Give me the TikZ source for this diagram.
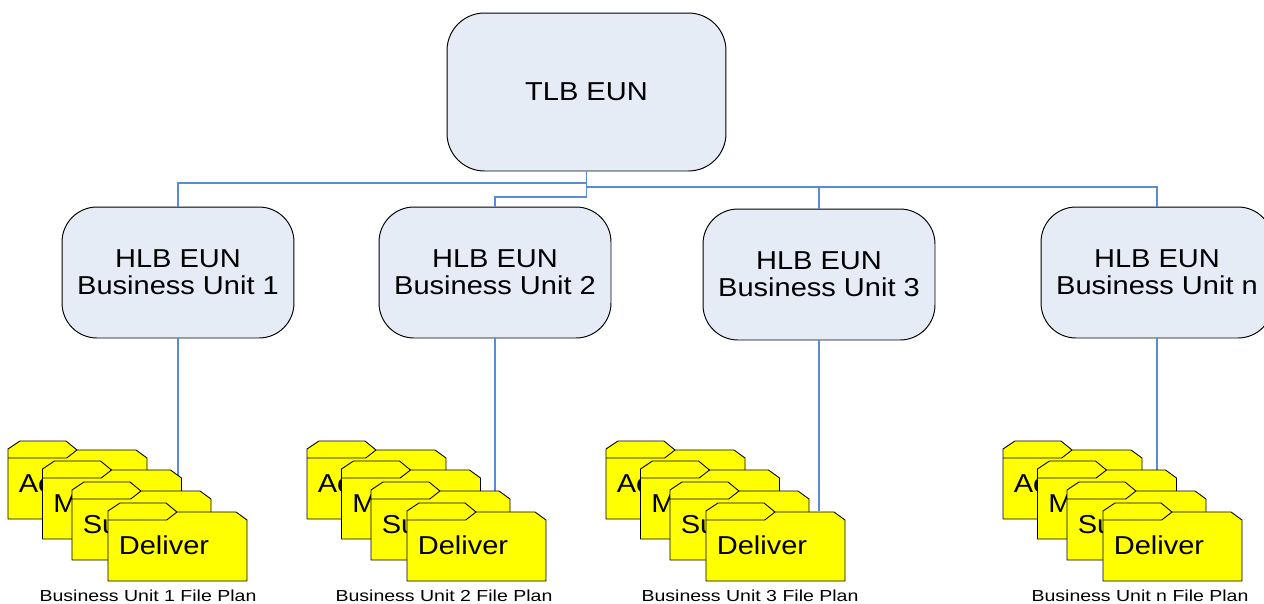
\documentclass[tikz,border=0pt]{standalone}
\usepackage{fontspec}
\setmainfont[FakeStretch=1.12]{Liberation Sans}
\newfontfamily\planfont[FakeStretch=1.22]{Liberation Sans}
\definecolor{boxfill}{HTML}{E6ECF6}
\definecolor{linkblue}{HTML}{5B8ADB}
\definecolor{folderfill}{HTML}{FFFF00}
\tikzset{
    toplevel/.style={draw, fill=boxfill, line width=0.55pt, rounded corners=0.75cm, minimum width=5.58cm, minimum height=3.16cm, align=center, font=\fontsize{14.75}{15.3}\selectfont},
    unitlevel/.style={draw, fill=boxfill, line width=0.55pt, rounded corners=0.7cm, minimum width=4.64cm, minimum height=2.62cm, align=center, font=\fontsize{14.75}{15.3}\selectfont},
    link/.style={linkblue, line width=0.7pt},
    folderbody/.style={draw, fill=folderfill, line width=0.5pt, line join=round},
    foldertext/.style={anchor=base west, inner sep=0pt, font=\fontsize{14.75}{18}\selectfont},
    plantext/.style={inner sep=0pt, font=\planfont\fontsize{9.1}{11}\selectfont}
}
\newcommand{\folder}[4]{
    \begin{scope}[shift={(#2,#3)}]
        \path[folderbody] (0,8) -- (12,0) -- (58,0) -- (69,9) -- (128,9) -- (139,17) -- (139,78) -- (0,78) -- cycle;
        \draw[line width=0.5pt] (0,17) -- (58.7,17) -- (69,9);
        \node[foldertext] (#1) at (10.5,51) {#4};
    \end{scope}
}
\newcommand{\folderset}[2]{
    \folder{ac#1}{#2}{441}{Ac}
    \folder{m#1}{#2+34.5}{461}{M}
    \folder{su#1}{#2+64}{482}{Su}
    \folder{del#1}{#2+100}{503}{Deliver}
}

\begin{document}
\begin{tikzpicture}[x=0.02cm,y=-0.02cm]
    \useasboundingbox (0,0) rectangle (1264,603);

    \node[toplevel] (tlb) at (586.5,92) {TLB EUN};
    \node[unitlevel] (hlbA) at (178,272.5) {HLB EUN\\Business Unit 1};
    \node[unitlevel] (hlbB) at (495,272.5) {HLB EUN\\Business Unit 2};
    \node[unitlevel] (hlbC) at (819,274.5) {HLB EUN\\Business Unit 3};
    \node[unitlevel] (hlbN) at (1157,272.5) {HLB EUN\\Business Unit n};

    \coordinate (planA) at (178,511);
    \coordinate (planB) at (495,511);
    \coordinate (planC) at (819,511);
    \coordinate (planN) at (1157,511);

    \draw[link] (tlb.south) -- (tlb.south |- 0,183) -| (hlbA.north);
    \draw[link] (tlb.south) -- (tlb.south |- 0,197) -| (hlbB.north);
    \draw[link] (tlb.south) -- (tlb.south |- 0,187) -| (hlbC.north);
    \draw[link] (tlb.south) -- (tlb.south |- 0,187) -| (hlbN.north);
    \draw[link] (hlbA.south) -- (planA);
    \draw[link] (hlbB.south) -- (planB);
    \draw[link] (hlbC.south) -- (planC);
    \draw[link] (hlbN.south) -- (planN);

    \folderset{A}{8}
    \folderset{B}{307}
    \folderset{C}{606}
    \folderset{N}{1003}

    \node[plantext] (textA) at (148,596) {Business Unit 1 File Plan};
    \node[plantext] (textB) at (444,596) {Business Unit 2 File Plan};
    \node[plantext] (textC) at (750,596) {Business Unit 3 File Plan};
    \node[plantext] (textN) at (1140,596) {Business Unit n File Plan};
\end{tikzpicture}
\end{document}
